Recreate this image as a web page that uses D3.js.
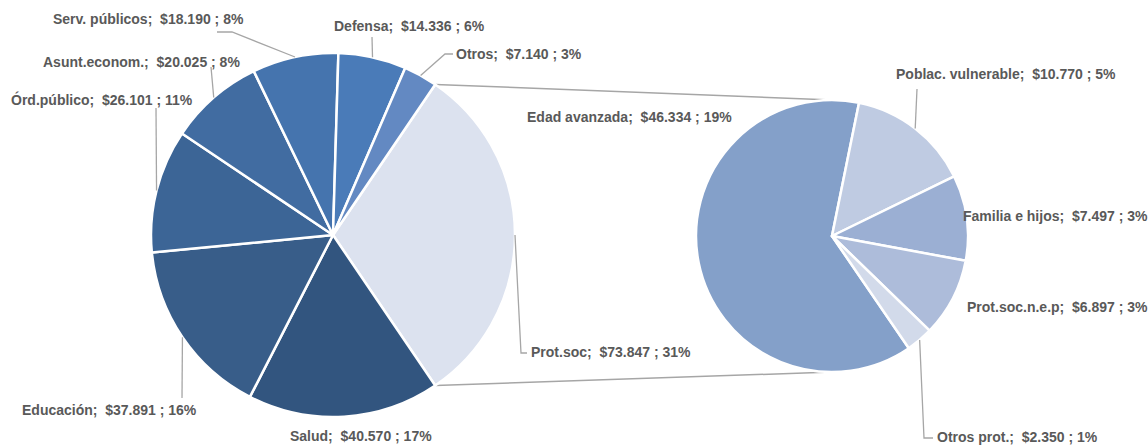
<!DOCTYPE html>
<html>
<head>
<meta charset="utf-8">
<script src="https://cdn.jsdelivr.net/npm/d3@7"></script>
<style>
  body { margin: 0; background: #fff; }
  svg { display: block; }
  text { font-family: Arial, "Liberation Sans", sans-serif; font-weight: bold; font-size: 14px; fill: #595959; white-space: pre; }
</style>
</head>
<body>
<div id="chart"></div>
<script>
// gasto por funcion (millones)
const mainCats = ['Prot.soc', 'Salud', 'Educación', 'Órd.público', 'Asunt.econom.', 'Serv. públicos', 'Defensa', 'Otros']
const mainVals = [73847, 40570, 37891, 26101, 20025, 18190, 14336, 7140]
const mainColors = ['#dce2ef', '#32557f', '#385d89', '#3c6596', '#416ca1', '#4574ae', '#4a7bb8', '#6389c2']

// desglose de proteccion social
const subCats = ['Edad avanzada', 'Poblac. vulnerable', 'Familia e hijos', 'Prot.soc.n.e.p', 'Otros prot.']
const subVals = [46334, 10770, 7497, 6897, 2350]
const subColors = ['#84a0c9', '#bfcbe2', '#9bafd3', '#adbcda', '#d2daea']

const w = 1148, h = 445
const main = {cx: 333, cy: 235, r: 182}
const sub = {cx: 832, cy: 236, r: 136}
const subStartDeg = 145.6

// label placement: x, baseline y, leader points on label side
const labelPos = {
  'Serv. públicos': {x: 53, y: 24, lead: [[217, 32], [232, 32]]},
  'Defensa': {x: 334, y: 31, lead: [[372, 37]]},
  'Otros': {x: 456, y: 59, lead: [[453, 54], [445, 54]]},
  'Asunt.econom.': {x: 43, y: 67, lead: [[211, 67]]},
  'Órd.público': {x: 11, y: 105, lead: [[156, 108]]},
  'Educación': {x: 22, y: 415, lead: [[182, 398]]},
  'Salud': {x: 290, y: 441, lead: null},
  'Prot.soc': {x: 531, y: 357, lead: [[527, 353], [521, 353]]},
  'Edad avanzada': {x: 527, y: 122, lead: null},
  'Poblac. vulnerable': {x: 896, y: 79, lead: [[917, 89]]},
  'Familia e hijos': {x: 963, y: 221, lead: null},
  'Prot.soc.n.e.p': {x: 967, y: 312, lead: null},
  'Otros prot.': {x: 937, y: 442, lead: [[933, 438], [924, 438]]}
}

const total = d3.sum(mainVals)
const es = d3.formatLocale({decimal: ',', thousands: '.', grouping: [3], currency: ['$', '']})
const fmt = es.format(',d')
const label = (name, v) => `${name};  $${fmt(v)} ; ${Math.round(v / total * 100)}%`

let svg = d3.select('#chart').append('svg').attr('width', w).attr('height', h)

const rad = d => d * Math.PI / 180
const pt = (c, a, r) => [c.cx + r * Math.sin(a), c.cy - r * Math.cos(a)]

// main pie, aggregate slice centred at 3 o'clock
let off = Math.PI / 2 - (mainVals[0] / total) * Math.PI
let mainArcs = d3.pie().sort(null).value(d => d.value).startAngle(off).endAngle(off + 2 * Math.PI)(
  mainVals.map((v, i) => ({name: mainCats[i], value: v, color: mainColors[i]})))

let subArcs = d3.pie().sort(null).value(d => d.value).startAngle(rad(subStartDeg)).endAngle(rad(subStartDeg) + 2 * Math.PI)(
  subVals.map((v, i) => ({name: subCats[i], value: v, color: subColors[i]})))

// connector lines between pies
let prot = mainArcs[0]
let conn = [
  [pt(main, prot.startAngle, main.r), [sub.cx, sub.cy - sub.r]],
  [pt(main, prot.endAngle, main.r), [sub.cx, sub.cy + sub.r]]
]
svg.selectAll('line.conn').data(conn).enter().append('line')
  .attr('class', 'conn')
  .attr('x1', d => d[0][0]).attr('y1', d => d[0][1])
  .attr('x2', d => d[1][0]).attr('y2', d => d[1][1])
  .attr('stroke', '#a6a6a6').attr('stroke-width', 1.5)

let arc = r => d3.arc().innerRadius(0).outerRadius(r)

let drawPie = (arcs, c) => {
  let g = svg.append('g').attr('transform', `translate(${c.cx},${c.cy})`)
  g.selectAll('path').data(arcs).enter().append('path')
    .attr('d', arc(c.r))
    .attr('fill', d => d.data.color)
    .attr('stroke', '#fff').attr('stroke-width', 2.5).attr('stroke-linejoin', 'round')

  arcs.forEach(a => {
    let p = labelPos[a.data.name]
    if (p.lead) {
      let mid = (a.startAngle + a.endAngle) / 2
      let pts = p.lead.concat([pt(c, mid, c.r)])
      svg.append('path')
        .attr('d', d3.line()(pts))
        .attr('fill', 'none').attr('stroke', '#a6a6a6').attr('stroke-width', 1.3)
    }
    svg.append('text').attr('x', p.x).attr('y', p.y)
      .text(label(a.data.name, a.data.value))
  })
}

drawPie(mainArcs, main)
drawPie(subArcs, sub)
</script>
</body>
</html>
